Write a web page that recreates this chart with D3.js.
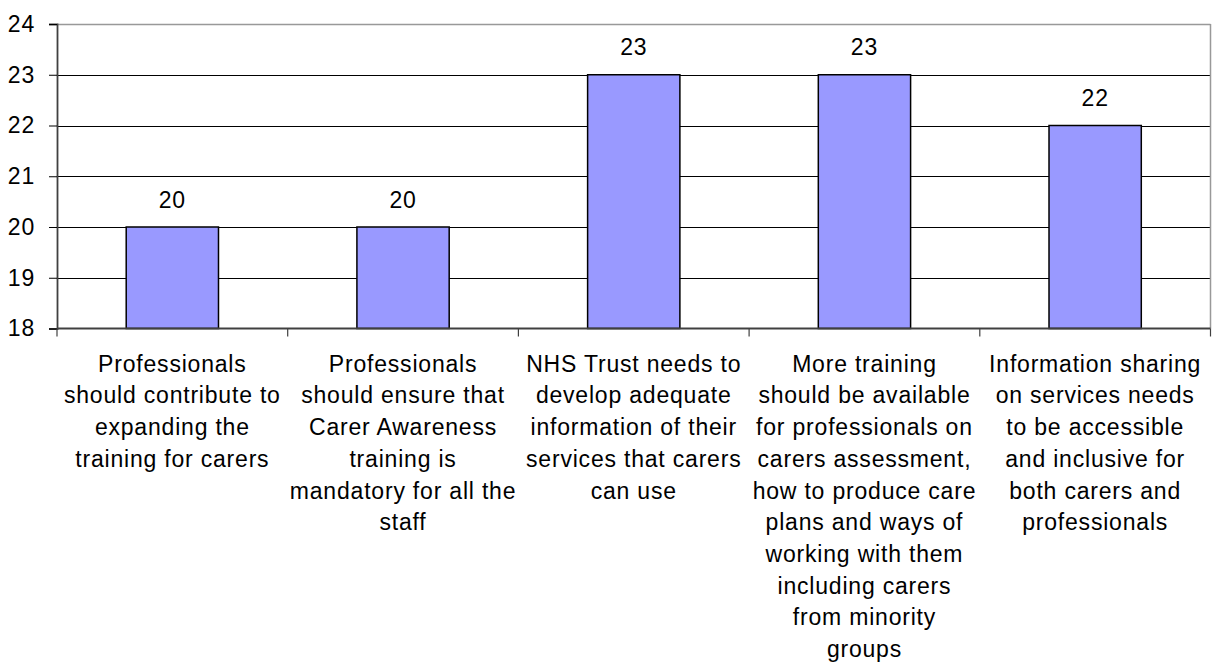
<!DOCTYPE html>
<html><head><meta charset="utf-8">
<script src="https://cdn.jsdelivr.net/npm/d3@7"></script>
<style>body{margin:0;background:#fff}svg{display:block}text{font-family:"Liberation Sans",Arial,sans-serif;fill:#000}</style>
</head><body><svg id="c" width="1216" height="664"></svg>
<script>
const categories = [
  ["Professionals","should contribute to","expanding the","training for carers"],
  ["Professionals","should ensure that","Carer Awareness","training is","mandatory for all the","staff"],
  ["NHS Trust needs to","develop adequate","information of their","services that carers","can use"],
  ["More training","should be available","for professionals on","carers assessment,","how to produce care","plans and ways of","working with them","including carers","from minority","groups"],
  ["Information sharing","on services needs","to be accessible","and inclusive for","both carers and","professionals"]
];
const values = [20, 20, 23, 23, 22];
const yTicks = [18, 19, 20, 21, 22, 23, 24];

const svg = d3.select("#c");
const L = 57, R = 1210.5, T = 24, B = 328.5;
const x = d3.scaleBand().domain(d3.range(values.length)).range([L, R]).paddingInner(0.6).paddingOuter(0.3);
const y = d3.scaleLinear().domain([18, 24]).range([B, T]);
const step = x.step();
const fs = 23, ls = 0.8;

// gridlines
svg.append("g").selectAll("line").data(yTicks.filter(d => d > 18 && d < 24)).join("line")
  .attr("x1", L).attr("x2", R).attr("y1", d => Math.round(y(d)) + 0.5).attr("y2", d => Math.round(y(d)) + 0.5)
  .attr("stroke", "#000").attr("stroke-width", 1);
// top & right border
svg.append("line").attr("x1", L).attr("x2", R).attr("y1", T + 0.5).attr("y2", T + 0.5).attr("stroke", "#999").attr("stroke-width", 1.5);
svg.append("line").attr("x1", R).attr("x2", R).attr("y1", T).attr("y2", B).attr("stroke", "#999").attr("stroke-width", 1.5);

// bars
svg.append("g").selectAll("rect").data(values).join("rect")
  .attr("x", (d, i) => x(i)).attr("width", x.bandwidth())
  .attr("y", d => y(d)).attr("height", d => y(18) - y(d))
  .attr("fill", "#9999FF").attr("stroke", "#000").attr("stroke-width", 1.5);

// value labels
svg.append("g").selectAll("text").data(values).join("text")
  .attr("x", (d, i) => x(i) + x.bandwidth() / 2).attr("y", d => y(d) - 19.5)
  .attr("text-anchor", "middle").attr("font-size", fs).attr("letter-spacing", ls).text(d => d);

// y axis
const ya = d3.axisLeft(y).tickValues(yTicks).tickSize(8).tickPadding(14).tickFormat(d3.format("d"));
const gy = svg.append("g").attr("transform", `translate(${L},0)`).call(ya);
gy.select(".domain").attr("stroke", "#404040").attr("stroke-width", 1.8);
gy.selectAll(".tick line").attr("stroke", "#000");
gy.selectAll("text").attr("font-size", fs).attr("letter-spacing", ls).attr("font-family", '"Liberation Sans",Arial,sans-serif').attr("fill", "#000");

// x axis line and boundary ticks
svg.append("line").attr("x1", L).attr("x2", R).attr("y1", B).attr("y2", B).attr("stroke", "#404040").attr("stroke-width", 1.8);
svg.append("g").selectAll("line").data(d3.range(values.length + 1)).join("line")
  .attr("x1", i => L + i * step).attr("x2", i => L + i * step).attr("y1", B).attr("y2", B + 8)
  .attr("stroke", "#404040").attr("stroke-width", 1.2);

// category labels
const cg = svg.append("g").selectAll("text").data(categories).join("text")
  .attr("text-anchor", "middle").attr("font-size", fs).attr("letter-spacing", ls);
cg.each(function(lines, i) {
  d3.select(this).selectAll("tspan").data(lines).join("tspan")
    .attr("x", x(i) + x.bandwidth() / 2).attr("y", (d, j) => 371.7 + j * 31.7).text(d => d);
});
</script></body></html>
